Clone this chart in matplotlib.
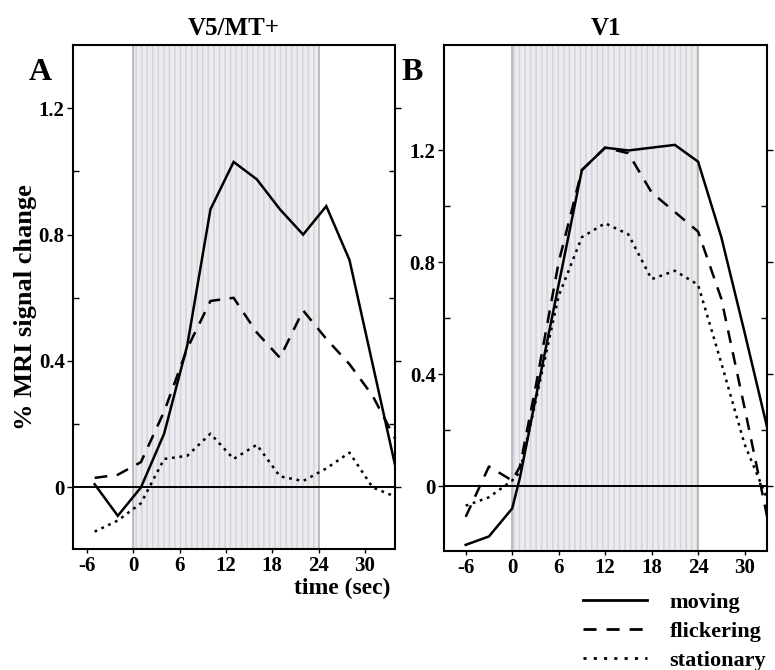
import matplotlib
matplotlib.use("Agg")
import matplotlib.pyplot as plt
from matplotlib.lines import Line2D
import numpy as np

plt.rcParams['font.family'] = ['Liberation Serif', 'DejaVu Serif']
plt.rcParams['font.weight'] = 'bold'
plt.rcParams['hatch.linewidth'] = 1.1

# ---- data ----
t_A = [-5, -2, 1, 4, 7, 10, 13, 16, 19, 22, 25, 28, 31, 34]
moving_A = [0.01, -0.09, 0.00, 0.17, 0.45, 0.88, 1.03, 0.975, 0.88, 0.80, 0.89, 0.72, 0.39, 0.06]
flicker_A = [0.03, 0.04, 0.08, 0.24, 0.44, 0.59, 0.60, 0.49, 0.41, 0.56, 0.47, 0.39, 0.29, 0.15]
station_A = [-0.14, -0.105, -0.05, 0.09, 0.10, 0.17, 0.09, 0.135, 0.035, 0.02, 0.06, 0.11, 0.00, -0.03]

t_B = [-6, -3, 0, 1, 3, 6, 9, 12, 15, 18, 21, 24, 27, 30, 33]
moving_B = [-0.21, -0.18, -0.08, 0.03, 0.31, 0.72, 1.13, 1.21, 1.20, 1.21, 1.22, 1.16, 0.89, 0.55, 0.20]
flicker_B = [-0.11, 0.07, 0.02, 0.07, 0.35, 0.80, 1.13, 1.21, 1.19, 1.05, 0.98, 0.91, 0.67, 0.28, -0.12]
station_B = [-0.07, -0.04, 0.02, 0.05, 0.30, 0.68, 0.89, 0.94, 0.90, 0.74, 0.77, 0.72, 0.44, 0.15, -0.05]

stim_on, stim_off = 0, 24
x_ticks = [-6, 0, 6, 12, 18, 24, 30]
y_major = [0, 0.4, 0.8, 1.2]
y_minor = [0.2, 0.6, 1.0]
y_labels = ['0', '0.4', '0.8', '1.2']
labels = ['moving', 'flickering', 'stationary']
styles = ['-', (0, (5.1, 3.8)), (0, (1.1, 1.9))]
legend_styles = ['-', (0, (4.7, 3.6)), (0, (1.1, 2.6))]

fig = plt.figure(figsize=(7.75, 6.7), dpi=100)
axA = fig.add_axes([0.0942, 0.1806, 0.4155, 0.7522])
axB = fig.add_axes([0.5729, 0.1776, 0.4168, 0.7552])

def setup(ax, t, series, xlim, ylim, title, letter):
    ax.axvspan(stim_on, stim_off, facecolor='#eeebea', edgecolor='#cdd5e7',
               hatch='|||', lw=0, zorder=0)
    ax.axvline(stim_on, color='#b0b0b0', lw=1.2, zorder=1)
    ax.axvline(stim_off, color='#b0b0b0', lw=1.2, zorder=1)
    ax.axhline(0, color='black', lw=1.4, zorder=2)
    for y, ls in zip(series, styles):
        ax.plot(t, y, color='black', lw=1.8, linestyle=ls, zorder=3,
                solid_joinstyle='miter')
    ax.set_xlim(*xlim)
    ax.set_ylim(*ylim)
    ax.set_xticks(x_ticks)
    ax.set_xticklabels([str(v) for v in x_ticks], fontsize=15, fontweight='bold')
    ax.set_yticks(y_major)
    ax.set_yticklabels(y_labels, fontsize=15, fontweight='bold')
    ax.set_yticks(y_minor, minor=True)
    ax.tick_params(axis='y', which='major', direction='out', length=4, width=1,
                   right=True, pad=2)
    ax.tick_params(axis='y', which='minor', direction='in', length=4, width=1,
                   right=True)
    ax.tick_params(axis='x', direction='out', length=3, width=1, pad=2)
    for s in ax.spines.values():
        s.set_linewidth(1.5)
    ax.set_title(title, fontsize=18, fontweight='bold', pad=7)
    ax.text(-0.065, 0.975, letter, transform=ax.transAxes, fontsize=23,
            fontweight='bold', ha='right', va='top')

setup(axA, t_A, [moving_A, flicker_A, station_A], (-7.8, 33.9), (-0.195, 1.40),
      'V5/MT+', 'A')
setup(axB, t_B, [moving_B, flicker_B, station_B], (-8.8, 32.9), (-0.232, 1.577),
      'V1', 'B')

axA.set_ylabel('% MRI signal change', fontsize=19, fontweight='bold', labelpad=0)
axA.yaxis.set_label_coords(-0.113, 0.48)
axA.set_xlabel('time (sec)', fontsize=17, fontweight='bold', labelpad=0)
axA.xaxis.set_label_coords(0.985, -0.058)
axA.xaxis.label.set_ha('right')
axA.xaxis.label.set_va('top')

handles = [Line2D([0], [0], color='black', lw=2.0, linestyle=ls) for ls in legend_styles]
fig.legend(handles, labels, loc='upper left', bbox_to_anchor=(0.752, 0.116),
           frameon=False, fontsize=16, handlelength=2.9, handletextpad=1.0,
           labelspacing=0.38, borderaxespad=0, borderpad=0)

fig.savefig('out.png', dpi=100)
